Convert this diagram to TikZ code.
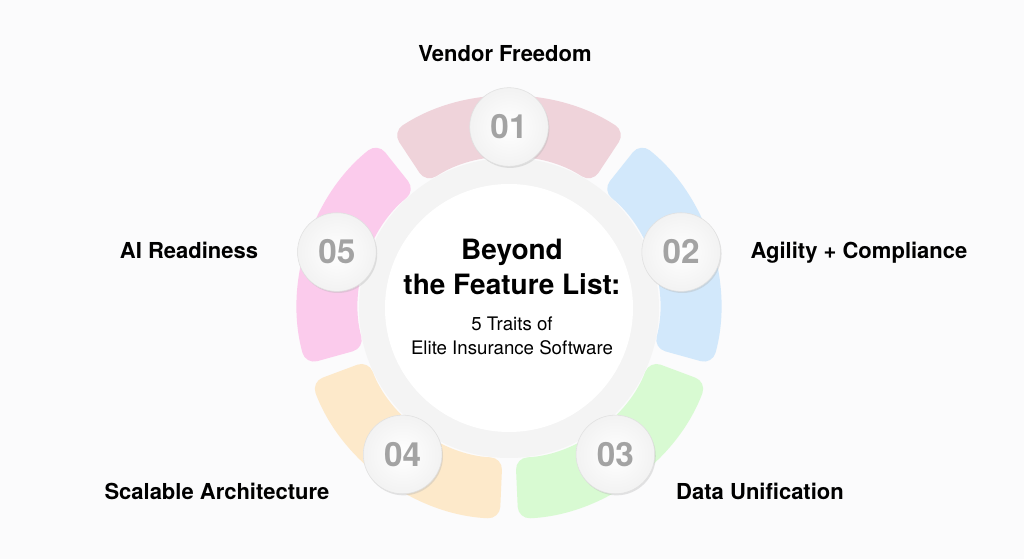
\documentclass[tikz,border=0pt]{standalone}
\usepackage{fontspec}
\setmainfont{TeX Gyre Heros}
\usepackage{tikz}
\usetikzlibrary{shadows}
\definecolor{bgpage}{HTML}{FBFBFC}
\definecolor{segrose}{HTML}{EFD3DA}
\definecolor{segblue}{HTML}{D2E8FB}
\definecolor{seggreen}{HTML}{D8FAD2}
\definecolor{segyellow}{HTML}{FDE9CA}
\definecolor{segpink}{HTML}{FBCBEC}
\definecolor{numgray}{HTML}{A3A3A3}
\tikzstyle{numdisc}=[circle,minimum size=59pt,inner sep=0pt,draw=black!12,
  inner color=white,outer color=black!5,
  drop shadow={shadow xshift=0.8pt,shadow yshift=-1.2pt,fill=black!30,opacity=.35},
  text=numgray,font=\fontsize{25}{30}\selectfont\bfseries]
\tikzstyle{trait}=[anchor=base,font=\fontsize{16.5}{20}\selectfont\bfseries]

\begin{document}
\begin{tikzpicture}[x=0.75pt,y=0.75pt]
        \tikzset{title/.style = {anchor=base,font=\fontsize{21}{26}\selectfont\bfseries},
                 subtitle/.style = {anchor=base,font=\fontsize{14}{18}\selectfont}}
        \fill[bgpage] (-509,-251) rectangle (515,308);
        \useasboundingbox (-509,-251) rectangle (515,308);
        % ring of five segments
        \foreach \a/\c in {90/segrose,18/segblue,-54/seggreen,-126/segyellow,162/segpink}
          \fill[\c,rounded corners=9pt] (\a-33.5:150) arc[start angle=\a-33.5,end angle=\a+33.5,radius=150]
            -- (\a+33.5:211) arc[start angle=\a+33.5,end angle=\a-33.5,radius=211] -- cycle;
        \fill[black!4.5] (0,0) circle[radius=150];
        \fill[white] (0,0) circle[radius=124];
        % centre text
        \node[title] (t1) at (3,48) {Beyond};
        \node[title] (t2) at (3,13) {the Feature List:};
        \node[subtitle] (s1) at (3,-23) {5 Traits of};
        \node[subtitle] (s2) at (3,-47) {Elite Insurance Software};
        % numbered discs
        \node[numdisc] (n1) at (90:181) {01};
        \node[numdisc] (n2) at (18:181) {02};
        \node[numdisc] (n3) at (-54:181) {03};
        \node[numdisc] (n4) at (-126:181) {04};
        \node[numdisc] (n5) at (162:181) {05};
        % trait labels
        \node[trait] (l1) at (-4,246) {Vendor Freedom};
        \node[trait] (l2) at (350,49) {Agility + Compliance};
        \node[trait] (l3) at (251,-192) {Data Unification};
        \node[trait] (l4) at (-292,-192) {Scalable Architecture};
        \node[trait] (l5) at (-320,49) {AI Readiness};
      \end{tikzpicture}
\end{document}
